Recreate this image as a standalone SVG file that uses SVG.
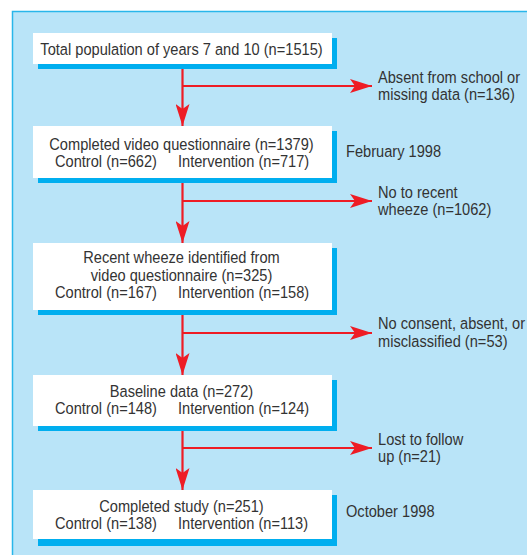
<svg xmlns="http://www.w3.org/2000/svg" width="527" height="555" viewBox="0 0 527 555">
<defs>
<style>
text{font-family:"Liberation Sans",Arial,sans-serif;font-size:17px;fill:#333333}
.c{text-anchor:middle}
.box{fill:#ffffff}
.sh{fill:#00aeef}
.ln{stroke:#ee1c25;stroke-width:2.2;fill:none}
.ah{fill:#ee1c25}
</style>
<marker id="ad" viewBox="0 0 22 14" refX="22" refY="7" markerWidth="22" markerHeight="14" markerUnits="userSpaceOnUse" orient="auto">
<path d="M0,0 L22,7 L0,14 L5,7 Z" class="ah"/>
</marker>
</defs>
<rect x="12" y="11" width="520" height="550" fill="#b9e4f8"/>
<path d="M12.5,555 L12.5,11.5 L527,11.5" fill="none" stroke="#29b6ea" stroke-width="1.5"/>
<g id="connectors">
<path class="ln" d="M182.5,64 L182.5,126" marker-end="url(#ad)"/>
<path class="ln" d="M182.5,86 L372,86" marker-end="url(#ad)"/>
<path class="ln" d="M182.5,178 L182.5,243" marker-end="url(#ad)"/>
<path class="ln" d="M182.5,201 L372,201" marker-end="url(#ad)"/>
<path class="ln" d="M182.5,310 L182.5,375" marker-end="url(#ad)"/>
<path class="ln" d="M182.5,333 L372,333" marker-end="url(#ad)"/>
<path class="ln" d="M182.5,426 L182.5,490" marker-end="url(#ad)"/>
<path class="ln" d="M182.5,448 L372,448" marker-end="url(#ad)"/>
</g>
<g id="n1">
<rect class="sh" x="38" y="38" width="299" height="31"/>
<rect class="box" x="33" y="33" width="299" height="31"/>
<text class="c" transform="translate(181.5,55) scale(0.86,1)">Total population of years 7 and 10 (n=1515)</text>
</g>
<g id="n2">
<rect class="sh" x="38" y="131" width="299" height="52"/>
<rect class="box" x="33" y="126" width="299" height="52"/>
<text class="c" transform="translate(181.5,150) scale(0.86,1)">Completed video questionnaire (n=1379)</text>
<text transform="translate(55,167) scale(0.86,1)">Control (n=662)</text>
<text transform="translate(178,167) scale(0.86,1)">Intervention (n=717)</text>
</g>
<g id="n3">
<rect class="sh" x="38" y="248" width="299" height="67"/>
<rect class="box" x="33" y="243" width="299" height="67"/>
<text class="c" transform="translate(181.5,263) scale(0.86,1)">Recent wheeze identified from</text>
<text class="c" transform="translate(181.5,281) scale(0.86,1)">video questionnaire (n=325)</text>
<text transform="translate(55,298) scale(0.86,1)">Control (n=167)</text>
<text transform="translate(178,298) scale(0.86,1)">Intervention (n=158)</text>
</g>
<g id="n4">
<rect class="sh" x="38" y="380" width="299" height="51"/>
<rect class="box" x="33" y="375" width="299" height="51"/>
<text class="c" transform="translate(181.5,397) scale(0.86,1)">Baseline data (n=272)</text>
<text transform="translate(55,414) scale(0.86,1)">Control (n=148)</text>
<text transform="translate(178,414) scale(0.86,1)">Intervention (n=124)</text>
</g>
<g id="n5">
<rect class="sh" x="38" y="495" width="299" height="51"/>
<rect class="box" x="33" y="490" width="299" height="49"/>
<text class="c" transform="translate(181.5,512) scale(0.86,1)">Completed study (n=251)</text>
<text transform="translate(55,529) scale(0.86,1)">Control (n=138)</text>
<text transform="translate(178,529) scale(0.86,1)">Intervention (n=113)</text>
</g>
<g id="e1">
<text transform="translate(378,82.5) scale(0.86,1)">Absent from school or</text>
<text transform="translate(378,99.5) scale(0.86,1)">missing data (n=136)</text>
</g>
<g id="e2">
<text transform="translate(378,198) scale(0.86,1)">No to recent</text>
<text transform="translate(378,215) scale(0.86,1)">wheeze (n=1062)</text>
</g>
<g id="e3">
<text transform="translate(378,329) scale(0.86,1)">No consent, absent, or</text>
<text transform="translate(378,347) scale(0.86,1)">misclassified (n=53)</text>
</g>
<g id="e4">
<text transform="translate(378,445) scale(0.86,1)">Lost to follow</text>
<text transform="translate(378,462) scale(0.86,1)">up (n=21)</text>
</g>
<g id="d1"><text transform="translate(346,157) scale(0.86,1)">February 1998</text></g>
<g id="d2"><text transform="translate(346,517) scale(0.86,1)">October 1998</text></g>
</svg>
